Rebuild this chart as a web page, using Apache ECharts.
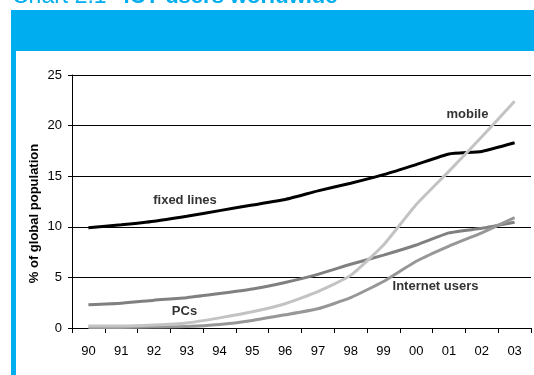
<!DOCTYPE html>
<html>
<head>
<meta charset="utf-8">
<script src="https://cdn.jsdelivr.net/npm/echarts@6/dist/echarts.min.js"></script>
<style>
  html, body { margin: 0; padding: 0; background: #ffffff; }
  #chart { width: 534px; height: 375px; }
</style>
</head>
<body>
<div id="chart"></div>
<script>
// Years on the x axis (1990 to 2003)
const years = ['90', '91', '92', '93', '94', '95', '96', '97', '98', '99', '00', '01', '02', '03'];

// Users as % of global population
const fixedLines = [9.9, 10.2, 10.55, 11.05, 11.6, 12.15, 12.7, 13.55, 14.3, 15.15, 16.15, 17.2, 17.45, 18.3];
const mobile     = [0.2, 0.2, 0.3, 0.5, 1.0, 1.6, 2.4, 3.6, 5.2, 8.2, 12.2, 15.5, 18.9, 22.4];
const pcs        = [2.3, 2.45, 2.75, 3.0, 3.4, 3.85, 4.5, 5.3, 6.3, 7.2, 8.2, 9.4, 9.85, 10.45];
const internet   = [0.05, 0.05, 0.1, 0.15, 0.35, 0.75, 1.3, 1.9, 3.0, 4.6, 6.6, 8.1, 9.4, 10.9];

// Y axis ticks
const yTicks = [0, 5, 10, 15, 20, 25];

const FONT = '"Liberation Sans", Arial, sans-serif';
const BLUE = '#00AEEF';
const LABEL_COLOR = '#333333';

const chart = echarts.init(document.getElementById('chart'), null, { renderer: 'canvas' });

function lineSeries(name, data, color, z) {
  return {
    name: name,
    type: 'line',
    data: data,
    showSymbol: false,
    symbol: 'none',
    smooth: 0.15,
    z: z,
    lineStyle: { color: color, width: 3 },
    emphasis: { disabled: true }
  };
}

function seriesLabel(text, x, y) {
  return {
    type: 'text', z: 10, x: x, y: y,
    style: {
      text: text, fontFamily: FONT, fontSize: 13, fontWeight: 'bold',
      fill: LABEL_COLOR, align: 'center', verticalAlign: 'middle'
    }
  };
}

const option = {
  animation: false,
  backgroundColor: '#ffffff',
  grid: { left: 72, right: 3, top: 75, bottom: 47, containLabel: false },
  xAxis: {
    type: 'category',
    data: years,
    boundaryGap: true,
    axisLine: { show: true, lineStyle: { color: '#000000', width: 1 } },
    axisTick: { show: true, length: 5, inside: false, lineStyle: { color: '#000000', width: 1 } },
    axisLabel: { color: '#000000', fontSize: 13, fontFamily: FONT, margin: 17 },
    splitLine: { show: false }
  },
  yAxis: {
    type: 'value',
    min: yTicks[0],
    max: yTicks[yTicks.length - 1],
    interval: 5,
    axisLine: { show: true, lineStyle: { color: '#000000', width: 1 } },
    axisTick: { show: true, length: 4, inside: false, lineStyle: { color: '#000000', width: 1 } },
    axisLabel: { color: '#000000', fontSize: 13, fontFamily: FONT, margin: 10 },
    splitLine: { show: true, lineStyle: { color: '#000000', width: 1 } }
  },
  series: [
    lineSeries('fixed lines', fixedLines, '#000000', 3),
    lineSeries('PCs', pcs, '#808080', 4),
    lineSeries('Internet users', internet, '#979797', 5),
    lineSeries('mobile', mobile, '#c3c3c3', 6)
  ],
  graphic: [
    // Header banner and left frame
    { type: 'rect', z: 0, shape: { x: 11, y: 10, width: 523, height: 41 }, style: { fill: BLUE } },
    { type: 'rect', z: 0, shape: { x: 11, y: 51, width: 5, height: 324 }, style: { fill: BLUE } },
    {
      type: 'text', z: 1, x: 12, y: 8,
      style: {
        text: '{r|Chart 2.1}{b|ICT users worldwide}',
        verticalAlign: 'bottom',
        rich: {
          r: { fontFamily: FONT, fontSize: 23, fill: BLUE, fontWeight: 'normal' },
          b: { fontFamily: FONT, fontSize: 22, fill: BLUE, fontWeight: 'bold', padding: [0, 0, 0, 17] }
        }
      }
    },
    // Y axis title
    {
      type: 'text', z: 10, x: 34, y: 213.5, rotation: Math.PI / 2,
      style: {
        text: '% of global population', fontFamily: FONT, fontSize: 13, fontWeight: 'bold',
        fill: '#000000', align: 'center', verticalAlign: 'middle'
      }
    },
    // Series labels
    seriesLabel('fixed lines', 185, 200),
    seriesLabel('mobile', 467.5, 114),
    seriesLabel('PCs', 184.5, 311.5),
    seriesLabel('Internet users', 435.5, 286.5)
  ]
};

chart.setOption(option);
</script>
</body>
</html>
